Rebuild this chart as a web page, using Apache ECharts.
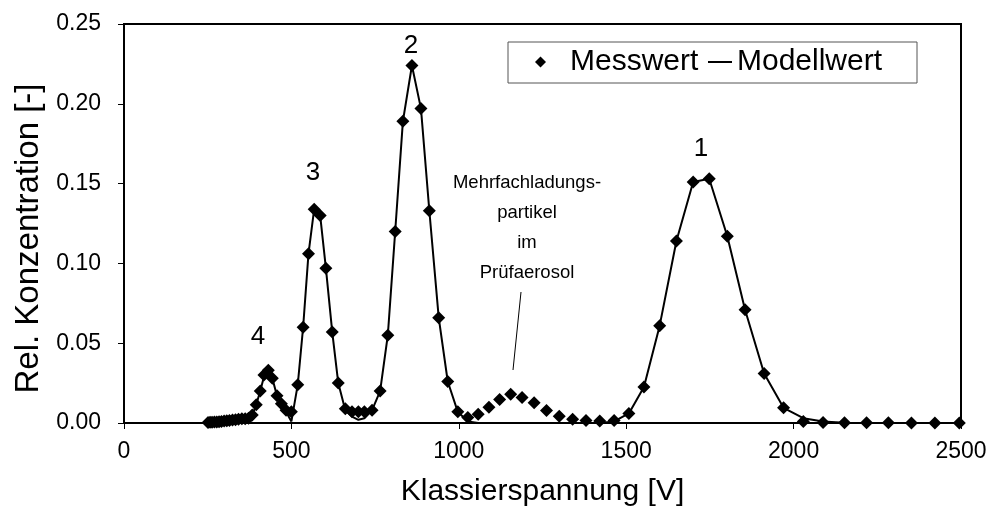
<!DOCTYPE html>
<html>
<head>
<meta charset="utf-8">
<script src="https://cdn.jsdelivr.net/npm/echarts@6/dist/echarts.min.js"></script>
<style>
  html, body { margin: 0; padding: 0; background: #fff; }
  #chart { width: 993px; height: 521px; }
</style>
</head>
<body>
<div id="chart"></div>
<script>
// Klassierspannung [V] der einzelnen Messkanäle
const voltage = [
  251, 257, 263, 270, 277, 284, 291, 299, 307, 315,
  324, 333, 342, 352, 362, 372, 383, 395, 407, 418,
  431, 443, 457, 470, 484, 500, 519, 535, 551, 568,
  586, 603, 622, 640, 661, 681, 700, 718, 741, 765,
  788, 810, 833, 860, 887, 912, 940, 967, 997, 1027,
  1058, 1090, 1122, 1155, 1189, 1225, 1262, 1300, 1340, 1380,
  1421, 1464, 1508, 1553, 1600, 1650, 1700, 1748, 1802, 1855,
  1912, 1970, 2029, 2088, 2152, 2218, 2283, 2352, 2422, 2495
];

// gemessene relative Konzentration
const messwert = [
  0.0003, 0.0004, 0.0005, 0.0006, 0.0007, 0.0008, 0.0010, 0.0012, 0.0014, 0.0016,
  0.0019, 0.0021, 0.0024, 0.0026, 0.0027, 0.0030, 0.0050, 0.0115, 0.0200, 0.0300,
  0.0330, 0.0280, 0.0170, 0.0120, 0.0080, 0.0070, 0.0240, 0.0600, 0.1060, 0.1340,
  0.1300, 0.0970, 0.0570, 0.0250, 0.0090, 0.0070, 0.0070, 0.0070, 0.0080, 0.0200,
  0.0550, 0.1200, 0.1890, 0.2240, 0.1970, 0.1330, 0.0660, 0.0260, 0.0070, 0.0035,
  0.0055, 0.0098, 0.0148, 0.0180, 0.0160, 0.0127, 0.0078, 0.0042, 0.0024, 0.0015,
  0.0013, 0.0016, 0.0060, 0.0225, 0.0610, 0.1140, 0.1510, 0.1530, 0.1170, 0.0710,
  0.0310, 0.0095, 0.0010, 0.0003, 0.0002, 0.0001, 0.0001, 0.0000, 0.0000, 0.0000
];

// berechnete relative Konzentration (Modell ohne Mehrfachladungen)
const modellwert = [
  0.0003, 0.0004, 0.0005, 0.0006, 0.0007, 0.0008, 0.0010, 0.0012, 0.0014, 0.0016,
  0.0019, 0.0021, 0.0024, 0.0026, 0.0027, 0.0030, 0.0050, 0.0115, 0.0200, 0.0290,
  0.0320, 0.0280, 0.0170, 0.0120, 0.0070, 0.0010, 0.0240, 0.0600, 0.1060, 0.1340,
  0.1300, 0.0970, 0.0570, 0.0250, 0.0080, 0.0040, 0.0020, 0.0030, 0.0080, 0.0200,
  0.0550, 0.1200, 0.1890, 0.2240, 0.1970, 0.1330, 0.0660, 0.0260, 0.0070, 0.0010,
  0.0000, 0.0000, 0.0000, 0.0000, 0.0000, 0.0000, 0.0000, 0.0000, 0.0000, 0.0000,
  0.0000, 0.0010, 0.0060, 0.0225, 0.0610, 0.1140, 0.1510, 0.1530, 0.1170, 0.0710,
  0.0310, 0.0095, 0.0030, 0.0010, 0.0002, 0.0000, 0.0000, 0.0000, 0.0000, 0.0000
];

const seriesNames = ['Messwert', 'Modellwert'];
const peakLabels = ['1', '2', '3', '4'];
const noteLines = ['Mehrfachladungs-', 'partikel', 'im', 'Prüfaerosol'];

const FONT = "'Liberation Sans', Arial, Helvetica, sans-serif";

const chart = echarts.init(document.getElementById('chart'), null, { renderer: 'canvas' });

const pairs = (ys) => voltage.map((v, i) => [v, ys[i]]);

const txt = (s, x, y, size) => ({
  type: 'text', z: 10, silent: true,
  style: { text: s, x: x, y: y, font: size + 'px ' + FONT, fill: '#000', align: 'center', verticalAlign: 'middle' }
});

const option = {
  animation: false,
  backgroundColor: '#fff',
  textStyle: { fontFamily: FONT, color: '#000' },
  grid: {
    left: 124, right: 32, top: 24, bottom: 98,
    show: true, borderColor: '#000', borderWidth: 2, backgroundColor: 'transparent'
  },
  xAxis: {
    type: 'value', min: 0, max: 2500, interval: 500,
    name: 'Klassierspannung [V]', nameLocation: 'middle', nameGap: 54,
    nameTextStyle: { fontSize: 30, color: '#000', fontFamily: FONT },
    axisLine: { show: true, lineStyle: { color: '#000', width: 2 } },
    axisTick: { show: true, inside: false, length: 6, lineStyle: { color: '#000', width: 1 } },
    axisLabel: { fontSize: 23, color: '#000', margin: 17, fontFamily: FONT, formatter: (v) => String(v) },
    splitLine: { show: false }
  },
  yAxis: {
    type: 'value', min: 0, max: 0.25, interval: 0.05,
    name: 'Rel. Konzentration [-]', nameLocation: 'middle', nameGap: 78, nameRotate: 90,
    nameTextStyle: { fontSize: 33, color: '#000', fontFamily: FONT, padding: [0, 30, 0, 0] },
    axisLine: { show: true, lineStyle: { color: '#000', width: 2 } },
    axisTick: { show: true, inside: false, length: 6, lineStyle: { color: '#000', width: 1 } },
    axisLabel: { fontSize: 23, color: '#000', margin: 23, fontFamily: FONT, formatter: (v) => v.toFixed(2) },
    splitLine: { show: false }
  },
  legend: [
    {
      data: [{ name: seriesNames[0], icon: 'diamond', itemStyle: { color: '#000', borderWidth: 0 } }],
      left: 535, top: 47, padding: 0, itemWidth: 11, itemHeight: 11, itemGap: 0,
      selectedMode: false, z: 6,
      textStyle: { fontSize: 30, color: '#000', fontFamily: FONT, padding: [0, 0, 0, 19] }
    },
    {
      data: [{ name: seriesNames[1], icon: 'path://M0,0H24V2H0Z', itemStyle: { color: '#000', borderWidth: 0 } }],
      left: 708, top: 47, padding: 0, itemWidth: 24, itemHeight: 10, itemGap: 0,
      selectedMode: false, z: 6,
      textStyle: { fontSize: 30, color: '#000', fontFamily: FONT }
    }
  ],
  graphic: [
    {
      type: 'rect', z: 5, silent: true,
      shape: { x: 508, y: 42, width: 409, height: 41 },
      style: { fill: '#fff', stroke: '#555', lineWidth: 1 }
    },
    txt(peakLabels[0], 701, 149, 26),
    txt(peakLabels[1], 411, 46, 26),
    txt(peakLabels[2], 313, 173, 26),
    txt(peakLabels[3], 258, 337, 26),
    txt(noteLines[0], 527, 183, 18.5),
    txt(noteLines[1], 527, 213, 18.5),
    txt(noteLines[2], 527, 243, 18.5),
    txt(noteLines[3], 527, 273, 18.5),
    {
      type: 'line', z: 10, silent: true,
      shape: { x1: 521, y1: 292, x2: 513, y2: 370 },
      style: { stroke: '#000', lineWidth: 1 }
    }
  ],
  series: [
    {
      name: seriesNames[1], type: 'line', data: pairs(modellwert),
      symbol: 'none', showSymbol: false, z: 2, silent: true,
      itemStyle: { color: '#000' },
      lineStyle: { color: '#000', width: 2 }
    },
    {
      name: seriesNames[0], type: 'scatter', data: pairs(messwert),
      symbol: 'diamond', symbolSize: 13, z: 3, silent: true,
      itemStyle: { color: '#000', opacity: 1 }
    }
  ]
};

chart.setOption(option);
</script>
</body>
</html>
